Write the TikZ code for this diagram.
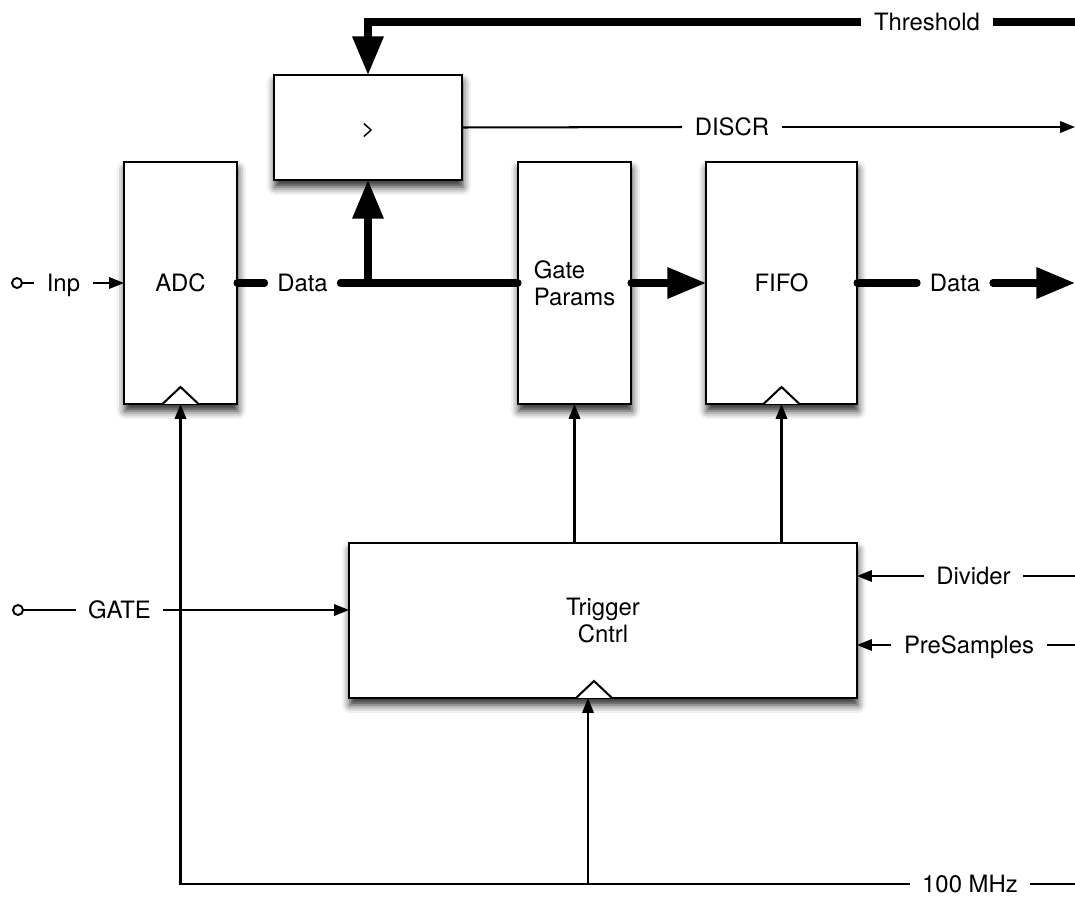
\documentclass[tikz,border=0pt]{standalone}
\usepackage{fontspec}
\setmainfont{TeX Gyre Heros}
\usetikzlibrary{arrows.meta,shadows.blur,calc}

\tikzset{
  blk/.style={draw, line width=1.2pt, fill=white, outer sep=0pt,
    text height=9.8pt, text depth=0pt,
    blur shadow={shadow xshift=0.5pt, shadow yshift=-4pt, shadow blur radius=4.5pt, shadow opacity=85}},
  lbl/.style={inner xsep=7pt, inner ysep=0pt, text height=9.8pt, text depth=0pt},
  bus/.style={line width=4pt, line cap=round},
  sig/.style={line width=1.15pt},
  bigtip/.style={-{Triangle[length=22pt,width=17pt]}},
  tip/.style={-{Triangle[length=8.5pt,width=6.5pt]}},
  port/.style={circle, draw, line width=1.1pt, minimum size=0.2cm, inner sep=0pt, outer sep=0pt},
}

\begin{document}
\begin{tikzpicture}[x=0.02cm, y=-0.02cm, font=\fontsize{13.6}{15.3}\selectfont]
\useasboundingbox (0,0) rectangle (1075,896);

% blocks
\node[blk, minimum width=2.26cm, minimum height=4.84cm] (adc) at (180.5,283) {ADC};
\node[blk, minimum width=3.76cm, minimum height=2.1cm] (cmp) at (368,127.5) {>};
\node[blk, minimum width=2.26cm, minimum height=4.84cm, align=left, text height=, text depth=] (gp) at (574.5,283) {Gate\\Params};
\node[blk, minimum width=3.02cm, minimum height=4.84cm] (fifo) at (781.5,283) {FIFO};
\node[blk, minimum width=10.16cm, minimum height=3.1cm, align=center, text height=, text depth=] (trig) at (603,620.5) {Trigger\\Cntrl};

% clock inputs
\foreach \b/\dx in {adc/0, fifo/0, trig/-9}
  \draw[sig, fill=white] ($(\b.south)+(\dx-18,0)$) -- ++(18,-17) -- ++(18,17);

% threshold
\coordinate (thrin) at (1075,22);
\node[lbl] (thr) at (927,22) {Threshold};
\draw[bus, line cap=butt] (thrin) -- (thr.east);
\draw[bus, line cap=butt, bigtip] (thr.west) -| (cmp.north);

% discriminator out
\node[lbl] (discr) at (732,127) {DISCR};
\coordinate (discrout) at (1075,127);
\draw[sig] (cmp.east) -- (discr.west);
\draw[sig, tip] (discr.east) -- (discrout);

% data path
\node[lbl] (data1) at (302.5,283) {Data};
\draw[bus] (adc.east) -- (data1.west);
\draw[bus] (data1.east) -- (gp.west);
\coordinate (jn) at (368,283);
\draw[bus, line cap=butt, bigtip] (jn) -- (cmp.south);
\draw[bus, bigtip] (gp.east) -- (fifo.west);
\node[lbl] (data2) at (955,283) {Data};
\coordinate (dataout) at (1075,283);
\draw[bus] (fifo.east) -- (data2.west);
\draw[bus, bigtip] (data2.east) -- (dataout);

% inputs
\node[port] (inp) at (17,283) {};
\node[lbl] (inplbl) at (63.5,283) {Inp};
\draw[sig] (inp) -- (inplbl.west);
\draw[sig, tip] (inplbl.east) -- (adc.west);

\node[port] (gatein) at (18,610) {};
\node[lbl] (gate) at (119.5,610) {GATE};
\draw[sig] (gatein) -- (gate.west);
\draw[sig, tip] (gate.east) -- (trig.west |- gate);

\node[lbl] (div) at (973.5,576) {Divider};
\coordinate (divin) at (1075,576);
\draw[sig] (divin) -- (div.east);
\draw[sig, tip] (div.west) -- (trig.east |- div);

\node[lbl] (pre) at (969,645) {PreSamples};
\coordinate (prein) at (1075,645);
\draw[sig] (prein) -- (pre.east);
\draw[sig, tip] (pre.west) -- (trig.east |- pre);

% trigger outputs
\draw[sig, tip] (trig.north -| gp) -- (gp.south);
\draw[sig, tip] (trig.north -| fifo) -- (fifo.south);

% clock
\node[lbl] (clk) at (970,884) {100 MHz};
\coordinate (clkin) at (1075,884);
\draw[sig] (clkin) -- (clk.east);
\draw[sig, tip] (clk.west) -| (adc.south);
\coordinate (tap) at (588,884);
\draw[sig, tip] (tap) -- (tap |- trig.south);
\end{tikzpicture}
\end{document}
